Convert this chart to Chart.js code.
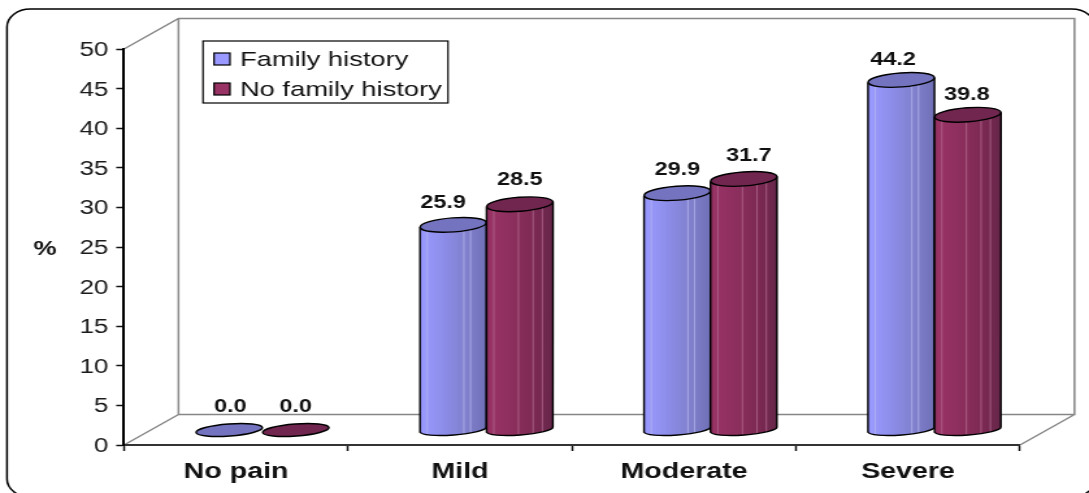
<!DOCTYPE html>
<html>
<head>
<meta charset="utf-8">
<script src="https://cdn.jsdelivr.net/npm/chart.js@4/dist/chart.umd.min.js"></script>
<style>
html, body { margin: 0; padding: 0; background: #fff; overflow: hidden; }
/* the source picture is wider than it was drawn, so the whole chart is stretched sideways */
#wrap { width: 838px; height: 493px; transform-origin: 0 0; transform: scaleX(1.29952); }
</style>
</head>
<body>
<div id="wrap"><canvas id="chartdiv" width="838" height="493"></canvas></div>
<script>
var categories = ["No pain", "Mild", "Moderate", "Severe"];
var familyHistory = [0.0, 25.9, 29.9, 44.2];
var noFamilyHistory = [0.0, 28.5, 31.7, 39.8];
var seriesNames = ["Family history", "No family history"];
var yTitle = "%";

var FONT = "'Liberation Sans', Arial, sans-serif";
var S = 1089 / 838;
var depthX = 26.5 / S, depthY = -15;   // bars stand halfway into the floor

var blue = {
    top: "#7373bf", swatch: "#9999ff",
    stops: [[0, "#8a8aea"], [0.05, "#9999ff"], [0.4, "#8b8be6"], [0.7, "#8080cc"], [1, "#7070b8"]],
    stripes: [0.11, 0.66, 0.76], stripe: "#b4b4ee"
};
var red = {
    top: "#70264f", swatch: "#993366",
    stops: [[0, "#7d2a55"], [0.05, "#993366"], [0.45, "#8a2e5c"], [0.75, "#7a2952"], [1, "#66264a"]],
    stripes: [0.11, 0.48, 0.7, 0.84], stripe: "#b0688e"
};
var looks = [blue, red];

// value labels do not sit exactly over their bars in the source (dx, dy in page px)
var labelNudge = [
    [[1, -23], [-10, -22], [0, -23], [-8, -20]],
    [[0, -23], [0, -24], [5, -23], [-1, -20]]
];

function bodyGradient(ctx, left, right, look) {
    var g = ctx.createLinearGradient(left, 0, right, 0);
    look.stops.forEach(function (s) { g.addColorStop(s[0], s[1]); });
    return g;
}

function drawCylinder(ctx, el, look, hasBody) {
    var cx = el.x + depthX, rx = el.width / 2, ry = 7, baseRy = 5.5;
    var yTop = el.y + depthY, yBase = el.base + depthY;
    var rise = 2.5, rot = -Math.atan(rise / rx);
    ctx.lineWidth = 1.4;
    ctx.strokeStyle = "#000";
    if (hasBody) {
        ctx.beginPath();
        ctx.moveTo(cx - rx, yTop + rise);
        ctx.lineTo(cx - rx, yBase + rise);
        ctx.ellipse(cx, yBase, rx, baseRy, rot, Math.PI, 0, true);
        ctx.lineTo(cx + rx, yTop - rise);
        ctx.closePath();
        ctx.fillStyle = bodyGradient(ctx, cx - rx, cx + rx, look);
        ctx.fill();
        ctx.save();
        ctx.clip();
        ctx.strokeStyle = look.stripe;
        ctx.lineWidth = 0.8;
        look.stripes.forEach(function (f) {
            ctx.beginPath();
            ctx.moveTo(cx - rx + f * 2 * rx, yTop - 10);
            ctx.lineTo(cx - rx + f * 2 * rx, yBase + 10);
            ctx.stroke();
        });
        ctx.restore();
        ctx.beginPath();
        ctx.moveTo(cx - rx, yTop + rise);
        ctx.lineTo(cx - rx, yBase + rise);
        ctx.ellipse(cx, yBase, rx, baseRy, rot, Math.PI, 0, true);
        ctx.lineTo(cx + rx, yTop - rise);
        ctx.stroke();
    }
    ctx.beginPath();
    ctx.ellipse(cx, yTop, rx, hasBody ? ry : 6, rot, 0, Math.PI * 2);
    ctx.fillStyle = look.top;
    ctx.fill();
    ctx.stroke();
}

var scene = {
    id: "scene",
    beforeDraw: function (chart) {
        var ctx = chart.ctx, a = chart.chartArea;
        var dx = 54.5 / S, dy = -30.5;
        ctx.save();
        // outer frame, runs off the right and bottom of the picture
        ctx.strokeStyle = "#000";
        ctx.lineWidth = 1.5;
        ctx.beginPath();
        ctx.roundRect(7 / S, 9, 1088 / S, 488, 18);
        ctx.stroke();
        // walls
        ctx.strokeStyle = "#868686";
        ctx.lineWidth = 1.5;
        ctx.beginPath();
        ctx.moveTo(a.left, a.top);
        ctx.lineTo(a.left + dx, a.top + dy);
        ctx.lineTo(a.right + dx, a.top + dy);
        ctx.lineTo(a.right + dx, a.bottom + dy);
        ctx.lineTo(a.left + dx, a.bottom + dy);
        ctx.lineTo(a.left + dx, a.top + dy);
        ctx.moveTo(a.left + dx, a.bottom + dy);
        ctx.lineTo(a.left, a.bottom);
        ctx.moveTo(a.right + dx, a.bottom + dy);
        ctx.lineTo(a.right, a.bottom);
        ctx.stroke();
        ctx.restore();
    },
    afterDatasetsDraw: function (chart) {
        var ctx = chart.ctx;
        ctx.save();
        chart.data.datasets.forEach(function (ds, d) {
            chart.getDatasetMeta(d).data.forEach(function (el, i) {
                drawCylinder(ctx, el, looks[d], ds.data[i] > 0);
            });
        });
        // value labels
        ctx.fillStyle = "#111";
        ctx.font = "bold 18px " + FONT;
        ctx.textAlign = "center";
        ctx.textBaseline = "middle";
        chart.data.datasets.forEach(function (ds, d) {
            chart.getDatasetMeta(d).data.forEach(function (el, i) {
                var n = labelNudge[d][i];
                ctx.fillText(ds.data[i].toFixed(1), el.x + depthX + n[0] / S, el.y + depthY + n[1]);
            });
        });
        // axis title stays upright
        ctx.font = "bold 20px " + FONT;
        ctx.fillText(yTitle, 45 / S, 249);
        // legend box
        ctx.fillStyle = "#fff";
        ctx.strokeStyle = "#000";
        ctx.lineWidth = 1.2;
        ctx.fillRect(203 / S, 41, 245 / S, 62);
        ctx.strokeRect(203 / S, 41, 245 / S, 62);
        ctx.font = "21px " + FONT;
        ctx.textAlign = "left";
        seriesNames.forEach(function (name, d) {
            var y = 59 + d * 30;
            ctx.fillStyle = looks[d].swatch;
            ctx.fillRect(214 / S, y - 6, 16 / S, 12);
            ctx.strokeRect(214 / S, y - 6, 16 / S, 12);
            ctx.fillStyle = "#111";
            ctx.fillText(name, 240 / S, y + 1);
        });
        ctx.restore();
    }
};

new Chart("chartdiv", {
    type: "bar",
    data: {
        labels: categories,
        datasets: [
            { label: seriesNames[0], data: familyHistory, backgroundColor: "rgba(0,0,0,0)" },
            { label: seriesNames[1], data: noFamilyHistory, backgroundColor: "rgba(0,0,0,0)" }
        ]
    },
    plugins: [scene],
    options: {
        responsive: false,
        animation: false,
        devicePixelRatio: 1,
        layout: { padding: { top: 49, right: 838 - 1020 / S, left: 0, bottom: 0 } },
        plugins: { legend: { display: false }, tooltip: { enabled: false } },
        datasets: { bar: { categoryPercentage: 0.594, barPercentage: 1 } },
        scales: {
            x: {
                afterFit: function (s) { s.height = 48; },
                border: { color: "#333", width: 2 },
                grid: { drawOnChartArea: false, tickLength: 6, tickColor: "#111", tickWidth: 1.5 },
                ticks: { color: "#111", padding: 8, font: { family: FONT, size: 22, weight: "bold" }, maxRotation: 0 }
            },
            y: {
                min: 0,
                max: 50,
                afterFit: function (s) { s.width = 124 / S; },
                border: { color: "#000", width: 2 },
                grid: { drawOnChartArea: false, tickLength: 6, tickColor: "#111", tickWidth: 1.5 },
                ticks: { stepSize: 5, color: "#1a1a1a", padding: 6, labelOffset: 1.5, font: { family: FONT, size: 20 } }
            }
        }
    }
});
</script>
</body>
</html>
